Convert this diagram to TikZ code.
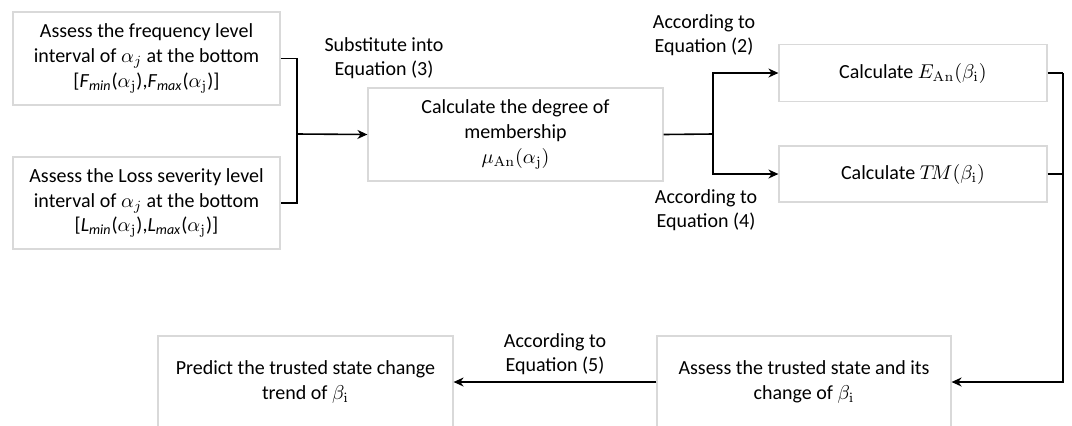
\documentclass[tikz,border=0pt]{standalone}
\usepackage[no-math]{fontspec}
\setmainfont{Carlito}
\usetikzlibrary{arrows.meta,calc,positioning}
\tikzset{pin/.style={-{Stealth[length=5pt,width=4.5pt]}, line width=0.8pt},
  wire/.style={line width=0.8pt},
  blk/.style={draw=black!15, line width=0.6pt, align=center, font=\fontsize{10}{12.3}\selectfont},
  lbl/.style={align=center, font=\fontsize{10}{12}\selectfont}}
\newcommand{\aj}{$\alpha_{\mathrm{j}}$}
\newcommand{\bi}{$\beta_{\mathrm{i}}$}

\begin{document}
\begin{tikzpicture}[x=0.5pt, y=-0.5pt]
  \clip (0,0) rectangle (1072,425);
  % input boxes
  \node[blk, minimum width=133.5pt, minimum height=46.5pt] (freq) at (146.5,58.5)
    {Assess the frequency level\\ interval of $\alpha_j$ at the bottom\\
     {[}\textit{F}\textsubscript{\textit{min}}(\aj),\textit{F}\textsubscript{\textit{max}}(\aj)]};
  \node[blk, minimum width=133.5pt, minimum height=46pt] (loss) at (146.5,203)
    {Assess the Loss severity level\\ interval of $\alpha_j$ at the bottom\\
     {[}\textit{L}\textsubscript{\textit{min}}(\aj),\textit{L}\textsubscript{\textit{max}}(\aj)]};
  \node[blk, minimum width=147.5pt, minimum height=46.5pt] (memb) at (515.5,134.5)
    {Calculate the degree of\\ membership\\ $\mu_{\mathrm{An}}(\alpha_{\mathrm{j}})$};
  \node[blk, minimum width=134pt, minimum height=28.5pt] (ean) at (913,73)
    {Calculate $E_{\mathrm{An}}(\beta_{\mathrm{i}})$};
  \node[blk, minimum width=134pt, minimum height=28pt] (tm) at (913,174)
    {Calculate $T\!M(\beta_{\mathrm{i}})$};
  \node[blk, minimum width=147pt, minimum height=46pt] (state) at (804,382)
    {Assess the trusted state and its\\ change of \bi};
  \node[blk, minimum width=147.5pt, minimum height=46pt] (trend) at (305.5,382)
    {Predict the trusted state change\\ trend of \bi};
  % edge labels
  \node[lbl] (eq3) at (384,58) {Substitute into\\ Equation (3)};
  \node[lbl] (eq2) at (704,35) {According to\\ Equation (2)};
  \node[lbl] (eq4) at (706,210) {According to\\ Equation (4)};
  \node[lbl] (eq5) at (555,354) {According to\\ Equation (5)};
  % merge of the two inputs
  \coordinate (jin) at (297,134);
  \coordinate (jout) at (713,134);
  \coordinate (rail) at (1063,73);
  \draw[wire] (freq.east) -| (jin) |- (loss.east);
  \draw[pin] (jin) -- (memb.west);
  % split after membership
  \draw[wire] (memb.east) -- (jout);
  \draw[pin] (jout) |- (ean.west);
  \draw[pin] (jout) |- (tm.west);
  % right rail down to the state box
  \draw[wire] (ean.east) -- (rail);
  \draw[wire] (tm.east) -- (rail |- tm.east);
  \draw[pin] (rail) |- (state.east);
  \draw[pin] (state.west) -- (trend.east);
\end{tikzpicture}
\end{document}
